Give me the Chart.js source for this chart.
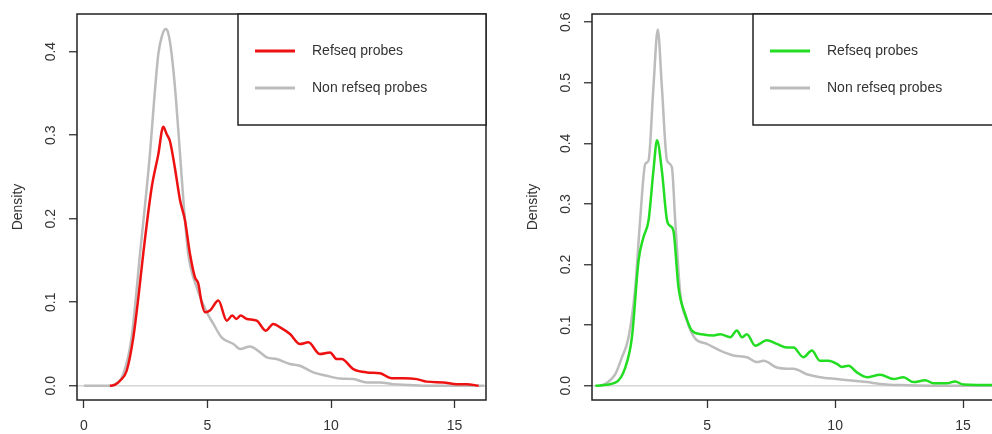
<!DOCTYPE html>
<html>
<head>
<meta charset="utf-8">
<script src="https://cdn.jsdelivr.net/npm/chart.js@4/dist/chart.umd.min.js"></script>
<style>
  html, body { margin: 0; padding: 0; background: #fff; overflow: hidden; width: 992px; height: 434px; }
  #left { position: absolute; left: 0; top: 0; }
  #right { position: absolute; left: 496px; top: 0; }
</style>
</head>
<body>
<canvas id="left" width="496" height="434"></canvas>
<canvas id="right" width="520" height="434"></canvas>
<script>
// ---------- DATA ----------
const seriesLabels = ["Refseq probes", "Non refseq probes"];
const yTitle = "Density";

// Left panel
const leftRefX = [1.05,1.25,1.46,1.73,2.0,2.20,2.40,2.74,3.01,3.21,3.35,3.48,3.68,3.89,4.09,4.29,4.49,4.63,4.76,4.90,5.10,5.44,5.78,6.0,6.17,6.34,6.59,6.99,7.36,7.66,7.94,8.34,8.74,9.08,9.55,9.96,10.23,10.43,10.90,11.45,11.98,12.46,12.93,13.47,13.87,14.55,15.09,15.49,15.97];
const leftRefY = [0,0.001,0.006,0.018,0.058,0.105,0.158,0.237,0.277,0.310,0.301,0.293,0.261,0.222,0.198,0.158,0.130,0.122,0.100,0.088,0.090,0.102,0.078,0.084,0.080,0.084,0.080,0.078,0.066,0.074,0.070,0.062,0.050,0.052,0.038,0.040,0.032,0.032,0.020,0.016,0.015,0.009,0.009,0.008,0.005,0.004,0.002,0.002,0];
const leftNonX = [0,1.05,1.19,1.59,1.93,2.27,2.67,2.85,3.01,3.15,3.31,3.42,3.55,3.72,3.89,4.05,4.22,4.56,4.97,5.24,5.57,6.05,6.32,6.72,7.13,7.40,7.80,8.34,8.74,9.28,9.82,10.36,10.90,11.45,11.98,12.5,13.2,13.7,16.2];
const leftNonY = [0,0,0.001,0.014,0.058,0.158,0.277,0.345,0.397,0.418,0.427,0.421,0.397,0.345,0.277,0.212,0.158,0.118,0.088,0.074,0.058,0.050,0.044,0.047,0.040,0.034,0.032,0.026,0.024,0.016,0.012,0.0087,0.008,0.004,0.004,0.002,0.001,0,0];
const leftXTicks = [0,5,10,15];
const leftYTicks = [0,0.1,0.2,0.3,0.4];

// Right panel
const rightRefX = [0.63,1.41,1.80,2.06,2.32,2.51,2.71,2.90,3.04,3.23,3.43,3.55,3.68,3.88,4.14,4.40,4.79,5.25,5.51,5.90,6.16,6.36,6.55,6.88,7.33,7.72,8.11,8.37,8.76,9.09,9.41,9.74,10.07,10.26,10.52,10.85,11.24,11.76,12.28,12.67,13.06,13.52,13.84,14.36,14.69,15.0,16.5];
const rightRefY = [0,0.005,0.030,0.080,0.207,0.245,0.273,0.355,0.405,0.355,0.273,0.264,0.256,0.162,0.118,0.091,0.085,0.083,0.085,0.080,0.091,0.080,0.085,0.066,0.075,0.069,0.063,0.063,0.047,0.058,0.041,0.041,0.036,0.031,0.033,0.022,0.014,0.018,0.011,0.014,0.006,0.009,0.004,0.004,0.007,0.002,0.001];
const rightNonX = [0.82,1.02,1.41,1.67,1.93,2.19,2.38,2.58,2.71,2.90,3.07,3.23,3.43,3.62,3.75,3.95,4.21,4.53,4.99,5.51,6.03,6.55,6.94,7.2,7.72,8.11,8.37,8.89,9.41,10.07,10.72,11.24,11.76,12.54,13.84,16.5];
const rightNonY = [0,0.003,0.019,0.047,0.080,0.162,0.273,0.366,0.372,0.493,0.588,0.493,0.372,0.361,0.273,0.152,0.107,0.078,0.069,0.058,0.050,0.047,0.039,0.041,0.030,0.028,0.028,0.019,0.014,0.011,0.008,0.006,0.003,0.001,0,0];
const rightXTicks = [5,10,15];
const rightYTicks = [0,0.1,0.2,0.3,0.4,0.5,0.6];

// ---------- RENDERING ----------
const FONT = "'Liberation Sans', Arial, sans-serif";
const TEXT = '#333';

function pts(xs, ys) { return xs.map((x, i) => ({ x: x, y: ys[i] })); }

const rframe = {
  id: 'rframe',
  afterDraw(chart, args, o) {
    const ctx = chart.ctx, ca = chart.chartArea;
    ctx.save();
    ctx.strokeStyle = '#222';
    ctx.lineWidth = 1.5;
    ctx.strokeRect(ca.left, ca.top, ca.right - ca.left, ca.bottom - ca.top);
    const ys = chart.scales.y;
    ctx.fillStyle = TEXT;
    ctx.font = '14px ' + FONT;
    ctx.textAlign = 'center';
    ctx.textBaseline = 'middle';
    ys.ticks.forEach(t => {
      const py = ys.getPixelForValue(t.value);
      ctx.save();
      ctx.translate(ca.left - 26, py);
      ctx.rotate(-Math.PI / 2);
      ctx.fillText(Number(t.value).toFixed(1), 0, 0);
      ctx.restore();
    });
    ctx.save();
    ctx.translate(ca.left - 59, (ca.top + ca.bottom) / 2);
    ctx.rotate(-Math.PI / 2);
    ctx.fillText(o.title, 0, 0);
    ctx.restore();
    const lw = 248, lh = 111;
    const lx = ca.right - lw, ly = ca.top;
    ctx.fillStyle = '#fff';
    ctx.fillRect(lx, ly, lw, lh);
    ctx.strokeStyle = '#222';
    ctx.lineWidth = 1.5;
    ctx.strokeRect(lx, ly, lw, lh);
    chart.data.datasets.forEach((ds, i) => {
      const yy = ly + 37 + 37 * i;
      ctx.strokeStyle = ds.borderColor;
      ctx.lineWidth = 3;
      ctx.beginPath();
      ctx.moveTo(lx + 17, yy);
      ctx.lineTo(lx + 57, yy);
      ctx.stroke();
      ctx.fillStyle = TEXT;
      ctx.textAlign = 'left';
      ctx.textBaseline = 'middle';
      ctx.font = '14px ' + FONT;
      ctx.fillText(ds.label, lx + 74, yy);
    });
    ctx.restore();
  }
};

function makeChart(id, cfg) {
  const common = { borderWidth: 2.5, pointRadius: 0, cubicInterpolationMode: 'monotone', fill: false };
  return new Chart(document.getElementById(id), {
    type: 'line',
    data: {
      datasets: [
        Object.assign({ label: seriesLabels[0], data: pts(cfg.refX, cfg.refY), borderColor: cfg.color }, common),
        Object.assign({ label: seriesLabels[1], data: pts(cfg.nonX, cfg.nonY), borderColor: '#bcbcbc' }, common)
      ]
    },
    options: {
      responsive: false,
      animation: false,
      devicePixelRatio: 1,
      layout: { padding: { left: 0, top: 14, right: cfg.padRight, bottom: 0 } },
      plugins: { legend: { display: false }, tooltip: { enabled: false }, rframe: { title: yTitle } },
      scales: {
        x: {
          type: 'linear',
          min: cfg.xMin, max: cfg.xMax,
          afterBuildTicks: s => { s.ticks = cfg.xTicks.map(v => ({ value: v })); },
          afterFit: s => { s.height = 34; },
          border: { display: false },
          grid: { drawOnChartArea: false, drawTicks: true, tickLength: 8, tickColor: '#333', tickWidth: 1.3 },
          ticks: { autoSkip: false, maxRotation: 0, minRotation: 0, padding: 10, color: TEXT, font: { family: FONT, size: 14 }, callback: v => String(v) }
        },
        y: {
          type: 'linear',
          min: cfg.yMin, max: cfg.yMax,
          afterBuildTicks: s => { s.ticks = cfg.yTicks.map(v => ({ value: v })); },
          afterFit: s => { s.width = cfg.yWidth; },
          border: { display: false },
          grid: {
            drawOnChartArea: true, drawTicks: true, tickLength: 8, tickColor: '#333', tickWidth: 1.3,
            color: c => (c.tick && c.tick.value === 0) ? '#d6d6d6' : 'rgba(0,0,0,0)',
            lineWidth: 1.5
          },
          ticks: { display: false }
        }
      }
    },
    plugins: [rframe]
  });
}

makeChart('left', {
  refX: leftRefX, refY: leftRefY, nonX: leftNonX, nonY: leftNonY, color: '#ee1111',
  xMin: -0.28, xMax: 16.27, yMin: -0.017, yMax: 0.445,
  xTicks: leftXTicks, yTicks: leftYTicks, yWidth: 77, padRight: 10
});
makeChart('right', {
  refX: rightRefX, refY: rightRefY, nonX: rightNonX, nonY: rightNonY, color: '#22dd22',
  xMin: 0.5, xMax: 16.48, yMin: -0.0236, yMax: 0.6136,
  xTicks: rightXTicks, yTicks: rightYTicks, yWidth: 96, padRight: 15
});
</script>
</body>
</html>
